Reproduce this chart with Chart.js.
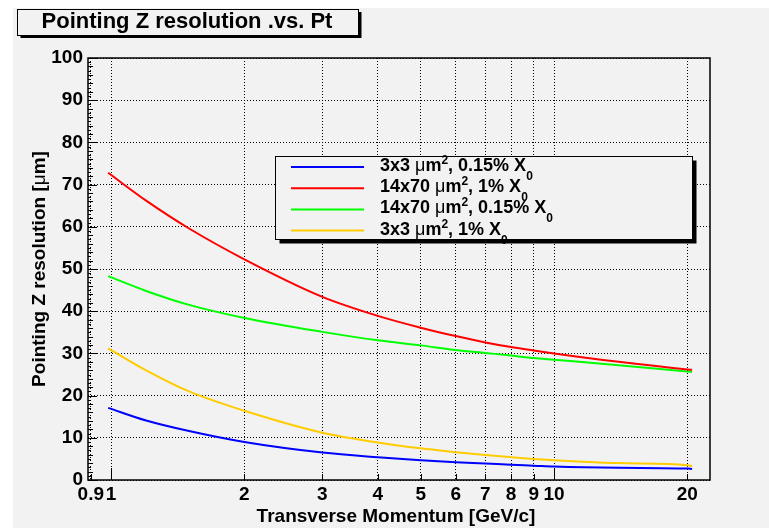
<!DOCTYPE html>
<html>
<head>
<meta charset="utf-8">
<script src="https://cdn.jsdelivr.net/npm/chart.js@4.4.0/dist/chart.umd.min.js"></script>
<style>
  html, body { margin: 0; padding: 0; background: #fff; }
  canvas { display: block; }
</style>
</head>
<body>
<canvas id="resolution_chart" width="769" height="528"></canvas>
<script>
// transverse momentum [GeV/c]
const momentum = [0.985, 1.2, 1.5, 2, 3, 4, 5, 6, 7, 8, 9, 10, 14, 20, 20.5];
// pointing Z resolution [um] for each detector option
const res3x3Thin = [17.1, 14.1, 11.6, 9.0, 6.5, 5.4, 4.7, 4.2, 3.9, 3.6, 3.4, 3.2, 2.9, 2.7, 2.6];
const res14x70Thick = [72.8, 66.2, 59.6, 52.3, 43.4, 38.9, 36.1, 34.1, 32.6, 31.5, 30.7, 30.0, 28.0, 26.2, 26.1];
const res14x70Thin = [48.3, 44.8, 41.5, 38.4, 35.1, 33.1, 31.9, 30.8, 30.1, 29.5, 28.9, 28.5, 27.2, 25.7, 25.6];
const res3x3Thick = [31.2, 26.0, 21.0, 16.4, 11.2, 8.9, 7.5, 6.6, 5.9, 5.4, 5.0, 4.7, 4.0, 3.5, 3.3];

const xTickValues = [0.9, 1, 2, 3, 4, 5, 6, 7, 8, 9, 10, 20];

// legend text pieces: pre + "um^2" + post + "_0"
const legendPre = ['3x3 ', '14x70 ', '14x70 ', '3x3 '];
const legendPost = [', 0.15% X', ', 1% X', ', 0.15% X', ', 1% X'];

const FONT = '"Liberation Sans", Arial, sans-serif';

function pts(ys) {
    return momentum.map((m, i) => ({ x: m, y: ys[i] }));
}

function richWidth(ctx, parts) {
    let w = 0;
    parts.forEach(p => { ctx.font = p.font; w += ctx.measureText(p.t).width; });
    return w;
}

function drawRich(ctx, parts, x, y) {
    let cx = x;
    parts.forEach(p => {
        ctx.font = p.font;
        ctx.fillText(p.t, cx, y + (p.dy || 0));
        cx += ctx.measureText(p.t).width;
    });
    return cx;
}

const bgPlugin = {
    id: 'canvasBg',
    beforeDraw(chart) {
        const ctx = chart.ctx;
        ctx.save();
        ctx.fillStyle = '#ffffff';
        ctx.fillRect(0, 0, chart.width, chart.height);
        ctx.fillStyle = '#f2f2f2';
        ctx.fillRect(13, 8, chart.width - 13, chart.height - 8);
        ctx.restore();
    }
};

const framePlugin = {
    id: 'rootFrame',
    afterDatasetsDraw(chart) {
        const { ctx, chartArea: a, scales: { x, y } } = chart;
        ctx.save();
        ctx.strokeStyle = '#000';
        ctx.lineWidth = 1;
        ctx.beginPath();
        for (let v = 0; v <= 100; v += 1) {
            const py = Math.round(y.getPixelForValue(v)) + 0.5;
            const len = v % 10 === 0 ? 9 : (v % 2 === 0 ? 5 : 3);
            ctx.moveTo(a.left, py);
            ctx.lineTo(a.left + len, py);
        }
        xTickValues.forEach(v => {
            const px = Math.round(x.getPixelForValue(v)) + 0.5;
            const len = (v === 1 || v === 10) ? 12 : 6;
            ctx.moveTo(px, a.bottom);
            ctx.lineTo(px, a.bottom - len);
        });
        ctx.stroke();
        ctx.lineWidth = 1.5;
        ctx.strokeRect(a.left, a.top, a.right - a.left, a.bottom - a.top);
        ctx.restore();
    }
};

const decorPlugin = {
    id: 'rootDecor',
    afterDraw(chart) {
        const ctx = chart.ctx;
        const a = chart.chartArea;
        ctx.save();
        ctx.fillStyle = '#000';
        ctx.textBaseline = 'alphabetic';

        // title box with shadow
        ctx.fillRect(20.5, 12, 341, 26);
        ctx.fillStyle = '#f2f2f2';
        ctx.fillRect(17.5, 9, 341, 26);
        ctx.strokeStyle = '#000';
        ctx.lineWidth = 1;
        ctx.strokeRect(17.5, 9.5, 341, 26);
        ctx.fillStyle = '#000';
        ctx.font = 'bold 22px ' + FONT;
        ctx.textAlign = 'center';
        ctx.fillText('Pointing Z resolution .vs. Pt', 187, 28);
        ctx.textAlign = 'left';

        // x axis title
        ctx.font = 'bold 19px ' + FONT;
        const xt = 'Transverse Momentum [GeV/c]';
        ctx.fillText(xt, 396 - ctx.measureText(xt).width / 2, 522);

        // y axis title
        const yParts = [
            { t: 'Pointing Z resolution [', font: 'bold 19px ' + FONT },
            { t: '\u03bc', font: '19px ' + FONT },
            { t: 'm]', font: 'bold 19px ' + FONT }
        ];
        ctx.save();
        ctx.translate(45, (a.top + a.bottom) / 2);
        ctx.rotate(-Math.PI / 2);
        drawRich(ctx, yParts, -richWidth(ctx, yParts) / 2, 0);
        ctx.restore();

        // legend box with shadow
        const L = 275.5, T = 156.5, W = 417, H = 83;
        ctx.fillStyle = '#000';
        ctx.fillRect(L + 4, T + 4, W, H);
        ctx.fillStyle = '#f2f2f2';
        ctx.fillRect(L, T, W, H);
        ctx.strokeRect(L, T, W, H);
        chart.data.datasets.forEach((ds, i) => {
            const ly = 167 + i * 21.2;
            ctx.strokeStyle = ds.borderColor;
            ctx.lineWidth = 2;
            ctx.beginPath();
            ctx.moveTo(291, ly);
            ctx.lineTo(364, ly);
            ctx.stroke();
            ctx.fillStyle = '#000';
            drawRich(ctx, [
                { t: legendPre[i], font: 'bold 18px ' + FONT },
                { t: '\u03bc', font: '18px ' + FONT },
                { t: 'm', font: 'bold 18px ' + FONT },
                { t: '2', font: 'bold 12px ' + FONT, dy: -7 },
                { t: legendPost[i], font: 'bold 18px ' + FONT },
                { t: '0', font: 'bold 12px ' + FONT, dy: 9 }
            ], 380, ly + 4);
        });
        ctx.restore();
    }
};

const ctx = document.getElementById('resolution_chart').getContext('2d');

new Chart(ctx, {
    type: 'line',
    data: {
        datasets: [
            { label: '3x3 \u03bcm2, 0.15% X0', data: pts(res3x3Thin), borderColor: '#0000ff' },
            { label: '14x70 \u03bcm2, 1% X0', data: pts(res14x70Thick), borderColor: '#ff0000' },
            { label: '14x70 \u03bcm2, 0.15% X0', data: pts(res14x70Thin), borderColor: '#00ff00' },
            { label: '3x3 \u03bcm2, 1% X0', data: pts(res3x3Thick), borderColor: '#ffcc00' }
        ].map(d => Object.assign(d, {
            borderWidth: 2,
            pointRadius: 0,
            fill: false,
            cubicInterpolationMode: 'monotone'
        }))
    },
    options: {
        responsive: false,
        animation: false,
        devicePixelRatio: 1,
        layout: { padding: { left: 0, top: 58, right: 59, bottom: 0 } },
        plugins: {
            legend: { display: false },
            tooltip: { enabled: false }
        },
        scales: {
            x: {
                type: 'logarithmic',
                min: 0.887,
                max: 22.5,
                afterFit: s => { s.height = 48; },
                afterBuildTicks: s => { s.ticks = xTickValues.map(v => ({ value: v })); },
                grid: { color: '#000', lineWidth: 1, drawTicks: false },
                border: { display: false, dash: [1, 2] },
                ticks: {
                    autoSkip: false,
                    maxRotation: 0,
                    padding: 3,
                    color: '#000',
                    font: { family: FONT, size: 19, weight: 'bold' },
                    callback: v => String(v)
                }
            },
            y: {
                min: 0,
                max: 100,
                afterFit: s => { s.width = 88; },
                grid: { color: '#000', lineWidth: 1, drawTicks: false },
                border: { display: false, dash: [1, 2] },
                ticks: {
                    stepSize: 10,
                    padding: 5,
                    color: '#000',
                    font: { family: FONT, size: 19, weight: 'bold' }
                }
            }
        }
    },
    plugins: [bgPlugin, framePlugin, decorPlugin]
});
</script>
</body>
</html>
